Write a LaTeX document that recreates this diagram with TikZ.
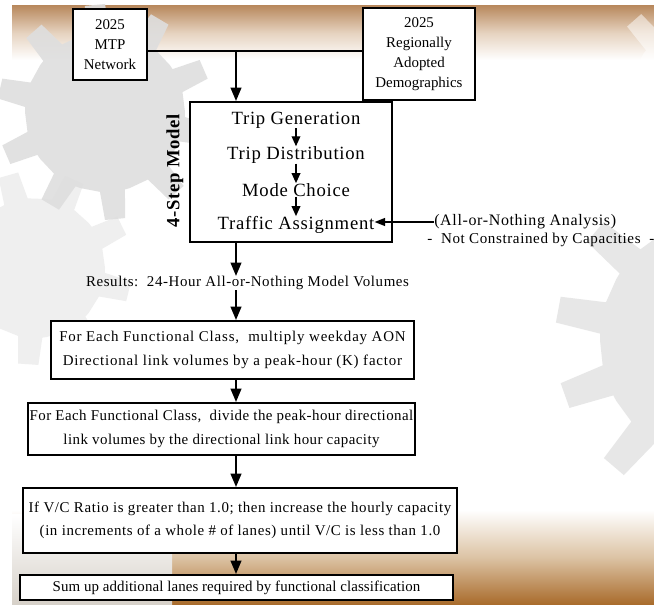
\documentclass[tikz,border=0pt]{standalone}
\usepackage{fontspec}
\setmainfont{Liberation Serif}
\usetikzlibrary{arrows.meta}
\definecolor{tantop}{HTML}{B98A5F}
\definecolor{tanmid}{HTML}{E6D3C0}
\definecolor{brownbot}{HTML}{A86A2A}
\definecolor{brownmid}{HTML}{DCC3A4}
\definecolor{gearA}{HTML}{DEDEDE}
\definecolor{gearB}{HTML}{EFEFEF}
\definecolor{gearC}{HTML}{E7E7E7}
\definecolor{dotgray}{HTML}{D6D0C8}
\newcommand\drawgear[6]{%
  \begin{scope}[shift={(#1,#2)}]
    \pgfmathsetmacro\gstep{360/#5}
    \fill[#6] (0:#3) \foreach \i in {1,...,#5}{
      -- ({(\i-1)*\gstep+0.1*\gstep}:#3)
      -- ({(\i-1)*\gstep+0.2*\gstep}:#4)
      -- ({(\i-1)*\gstep+0.5*\gstep}:#4)
      -- ({(\i-1)*\gstep+0.6*\gstep}:#3)
      -- ({\i*\gstep}:#3)} -- cycle;
  \end{scope}}
\tikzset{
  box/.style={draw=black, line width=1.5pt, fill=white, inner sep=0pt, align=center,
    font=\fontsize{11.2}{17}\selectfont},
  ls/.style={font=\fontsize{11.2}{17.5}\selectfont\addfontfeature{LetterSpace=#1}},
  topbox/.style={box, font=\fontsize{11.2}{15}\selectfont},
  big/.style={inner sep=0pt, align=center, font=\fontsize{14}{16}\selectfont\addfontfeature{LetterSpace=4}},
  side/.style={inner sep=0pt, anchor=west, font=\fontsize{#1}{15}\selectfont\addfontfeature{LetterSpace=4}},
  conn/.style={draw=black, line width=1.5pt},
  arr/.style={conn, -{Triangle[width=8pt,length=10pt]}},
  smallarr/.style={draw=black, line width=1.1pt, -{Triangle[width=6.5pt,length=7.5pt]}},
  sidearr/.style={draw=black, line width=1.1pt, -{Triangle[width=6pt,length=8pt]}}
}
\begin{document}
\begin{tikzpicture}[x=0.75pt,y=-0.75pt]
\useasboundingbox (0,0) rectangle (654,605);
\fill[white] (0,0) rectangle (654,605);
% background picture
\shade[top color=tantop, bottom color=white, middle color=tanmid] (12,6) rectangle (654,60);
\shade[top color=white, bottom color=brownbot, middle color=brownmid] (12,510) rectangle (654,605);
\shade[top color=white, bottom color=dotgray] (12,515) rectangle (172,605);
\drawgear{35}{268}{70}{97}{9}{gearB}
\drawgear{105}{112}{80}{108}{10}{gearA, opacity=0.9}
\drawgear{722}{340}{122}{167}{12}{gearC}
\drawgear{700}{95}{70}{100}{10}{white, opacity=0.5}
% nodes
\node[topbox, minimum width=55.5pt, minimum height=53.25pt] (mtp) at (110,44.5) {2025\\MTP\\Network};
\node[topbox, minimum width=84pt, minimum height=69pt] (demo) at (419,54.5) {2025\\Regionally\\Adopted\\Demographics};
\node[box, minimum width=151.5pt, minimum height=105pt] (step) at (291,172) {};
\node[big] (tg) at (296,120) {Trip Generation};
\node[big] (td) at (296,155) {Trip Distribution};
\node[big] (mc) at (296,190) {Mode Choice};
\node[big] (ta) at (296,225) {Traffic Assignment};
\node[rotate=90, inner sep=0pt, font=\bfseries\fontsize{14}{16}\selectfont\addfontfeature{LetterSpace=4}] (lbl) at (175,171) {4-Step Model};
\node[side=12] (aon) at (434,222) {(All-or-Nothing Analysis)};
\node[side=11.3] (nc) at (427,240) {-\ \ Not Constrained by Capacities\ \ -};
\node[inner sep=0pt, font=\fontsize{11.2}{15}\selectfont\addfontfeature{LetterSpace=4}] (res) at (247.5,283) {Results:\ \ 24-Hour All-or-Nothing Model Volumes};
\node[box, ls=5.5, minimum width=272.25pt, minimum height=43.5pt] (b1) at (232.5,350)
  {For Each Functional Class,\ \ multiply weekday AON\\Directional link volumes by a peak-hour (K) factor};
\node[box, ls=3, minimum width=290.25pt, minimum height=39pt] (b2) at (221.5,429)
  {For Each Functional Class,\ \ divide the peak-hour directional\\link volumes by the directional link hour capacity};
\node[box, ls=4, minimum width=325.5pt, minimum height=48.75pt] (b3) at (240,520.5)
  {If V/C Ratio is greater than 1.0; then increase the hourly capacity\\(in increments of a whole \# of lanes) until V/C is less than 1.0};
\node[box, ls=0.6, minimum width=324.75pt, minimum height=18.75pt] (b4) at (236.5,587.5)
  {Sum up additional lanes required by functional classification};
% connectors
\coordinate (junc) at (236,51);
\coordinate (spine) at (236,0);
\draw[conn] (mtp.east |- junc) -- (demo.west |- junc);
\draw[arr] (junc) -- (junc |- step.north);
\draw[smallarr] (tg.south) -- (td.north);
\draw[smallarr] (td.south) -- (mc.north);
\draw[smallarr] (mc.south) -- (ta.north);
\draw[sidearr] (aon.west) -- (aon.west -| ta.east);
\draw[arr] (spine |- step.south) -- (spine |- res.north);
\draw[arr] (spine |- res.south) -- (spine |- b1.north);
\draw[arr] (spine |- b1.south) -- (spine |- b2.north);
\draw[arr] (spine |- b2.south) -- (spine |- b3.north);
\draw[arr] (spine |- b3.south) -- (spine |- b4.north);
\end{tikzpicture}
\end{document}
